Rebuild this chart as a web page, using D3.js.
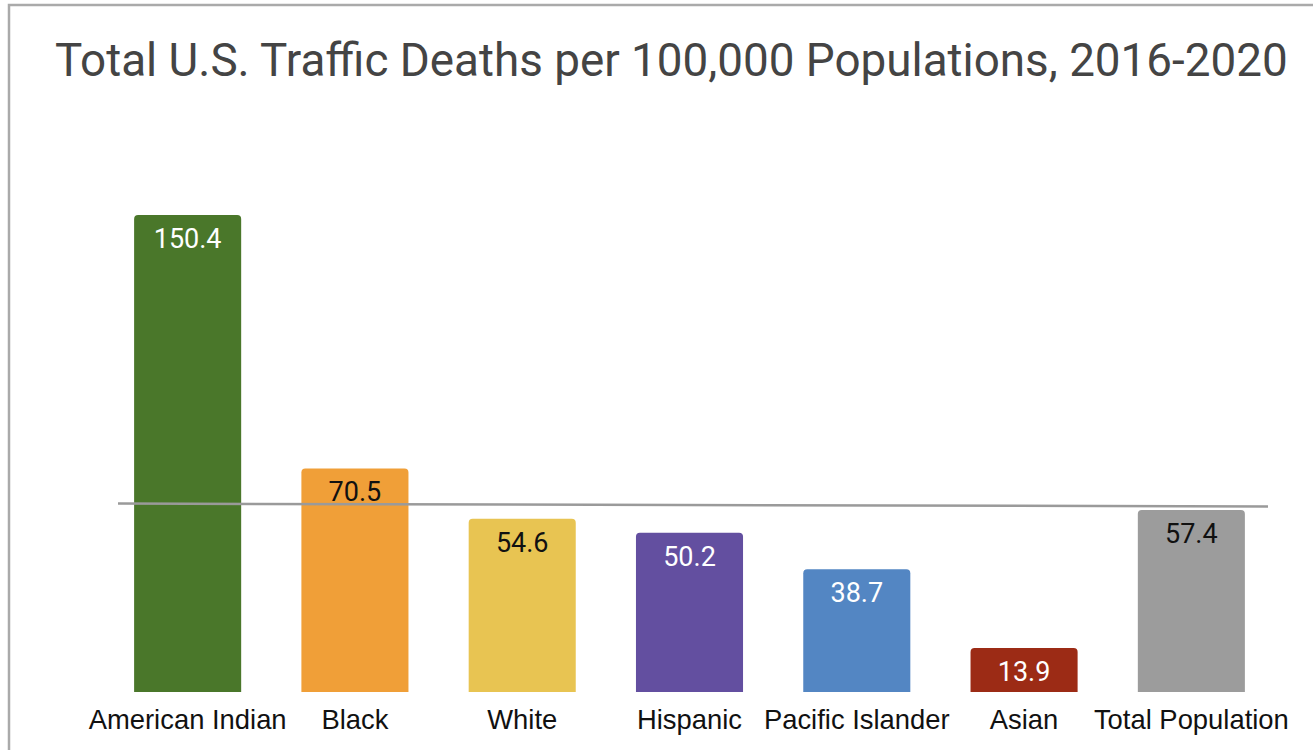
<!DOCTYPE html>
<html><head><meta charset="utf-8">
<script src="https://cdn.jsdelivr.net/npm/d3@7"></script>
<style>html,body{margin:0;padding:0;background:#fff;overflow:hidden}</style>
</head><body>
<svg id="chart" width="1313" height="750"></svg>
<script>
const categories = ["American Indian","Black","White","Hispanic","Pacific Islander","Asian","Total Population"];
const values = [150.4, 70.5, 54.6, 50.2, 38.7, 13.9, 57.4];
const barColors = ["#4a772a","#f09f38","#e8c452","#634fa0","#5386c3","#9c2b15","#9c9c9c"];
const labelColors = ["#ffffff","#111111","#111111","#ffffff","#ffffff","#ffffff","#111111"];
const refLine = [59.4, 58.5]; // reference line value at left and right ends
const title = "Total U.S. Traffic Deaths per 100,000 Populations, 2016-2020";

const svg = d3.select("#chart");

// frame
svg.append("path").attr("d","M9,750 V5 H1313").attr("fill","none").attr("stroke","#aaa").attr("stroke-width",2.5);

svg.append("text").attr("x",55).attr("y",76).attr("font-family","Roboto").attr("font-size",45.8)
  .attr("fill","#444").text(title);

const x = d3.scaleBand().domain(categories).range([104,1275]).paddingInner(0.36).paddingOuter(0.18);
const y = d3.scaleLinear().domain([0,150.4]).range([692,215]);

const r = 4;
function barPath(x0,w,yt,yb){
  return `M${x0},${yb} V${yt+r} Q${x0},${yt} ${x0+r},${yt} H${x0+w-r} Q${x0+w},${yt} ${x0+w},${yt+r} V${yb} Z`;
}
const data = categories.map((c,i)=>({c,v:values[i],col:barColors[i],lc:labelColors[i]}));

svg.append("g").selectAll("path").data(data).join("path")
  .attr("d",d=>barPath(x(d.c),x.bandwidth(),y(d.v),y(0)))
  .attr("fill",d=>d.col);

// reference line
const xl = d3.scaleLinear().domain([0,1]).range([118,1268]);
svg.append("line").attr("x1",xl(0)).attr("x2",xl(1)).attr("y1",y(refLine[0])).attr("y2",y(refLine[1]))
  .attr("stroke","#9a9a9a").attr("stroke-width",2.5);

svg.append("g").selectAll("text").data(data).join("text")
  .attr("x",d=>x(d.c)+x.bandwidth()/2).attr("y",d=>y(d.v)+33)
  .attr("text-anchor","middle").attr("font-family","Roboto").attr("font-size",27)
  .attr("fill",d=>d.lc).text(d=>d.v.toFixed(1));

// axis labels
const xAxis = d3.axisBottom(x).tickSize(0).tickPadding(0);
const ax = svg.append("g").attr("transform",`translate(0,${y(0)})`).call(xAxis);
ax.select(".domain").remove();
ax.selectAll("text").attr("font-family","Liberation Sans, Arial").attr("font-size",27.4)
  .attr("fill","#111").attr("dy",null).attr("y",37);
</script>
</body></html>
